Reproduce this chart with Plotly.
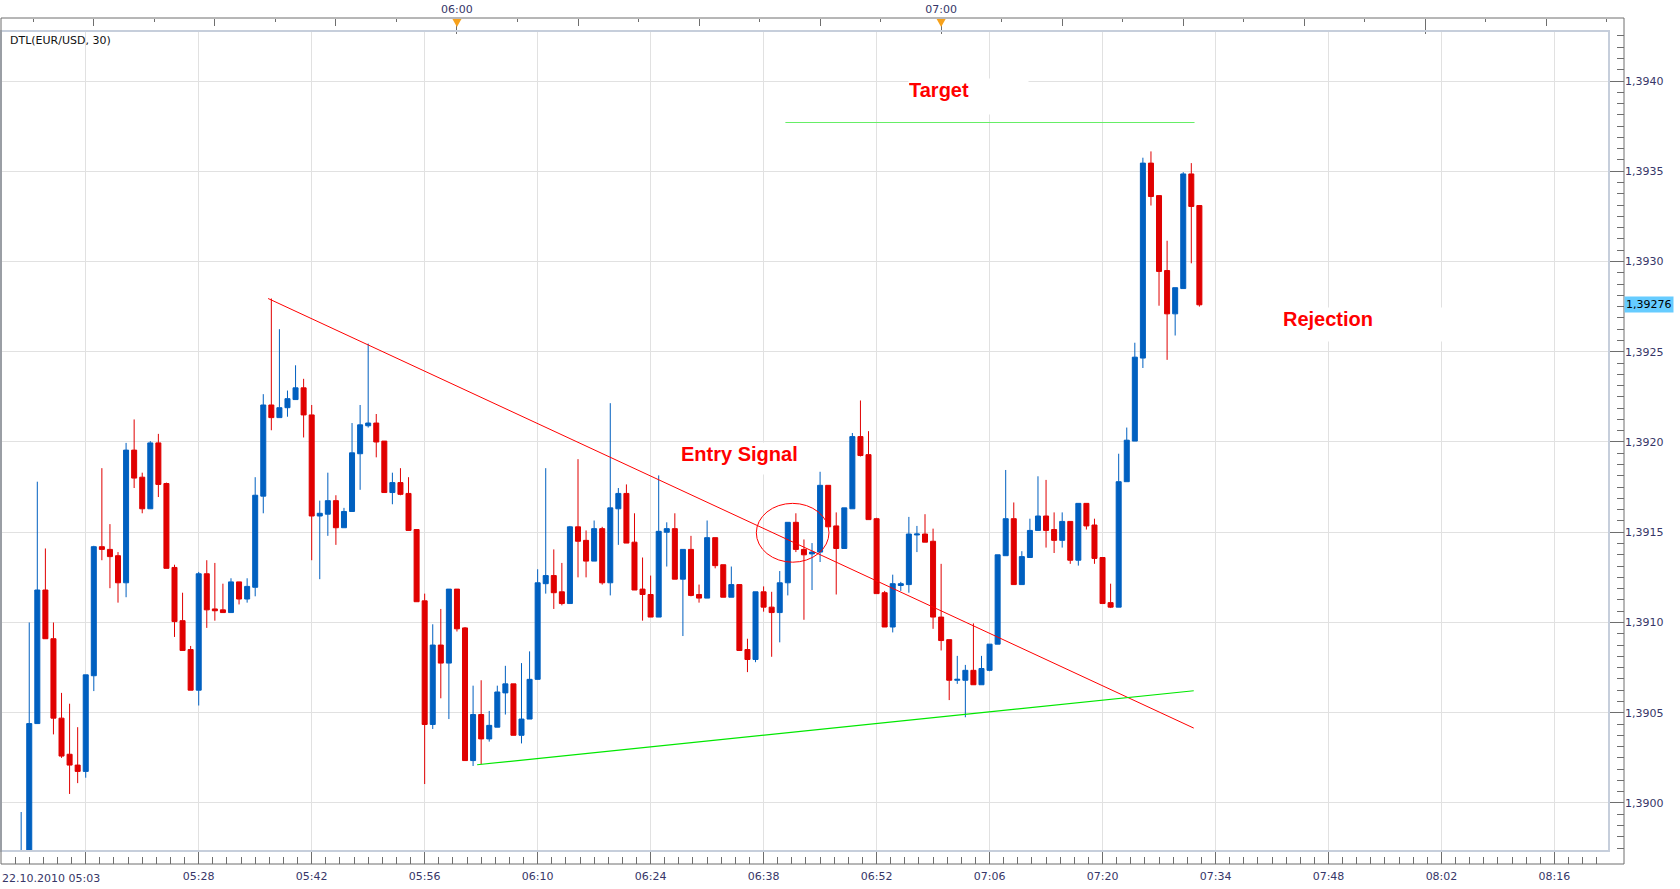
import plotly.graph_objects as go

# ------------------------------------------------------------------ data
BASE = 1.3900          # prices below are pip offsets from this level
PIP = 0.0001
first_bar = -8         # bar index of the first (partly hidden) candle; one bar per minute

open_pips = [
    -5.5, -4.0, 4.4, 11.8, 9.1, 4.7, 2.7, 2.1, 1.75, 7.05,
    14.2, 14.05, 13.7, 12.2, 19.55, 18.05, 16.3, 19.95, 17.7, 13.05,
    10.1, 8.5, 6.25, 12.7, 10.75, 10.7, 10.55, 12.25, 11.3, 11.95,
    17.0, 22.05, 21.35, 21.9, 22.35, 23.0, 21.5, 15.9, 16.0, 16.75,
    15.25, 16.15, 19.35, 20.9, 21.05, 20.05, 17.2, 17.75, 17.15, 15.15,
    11.2, 4.35, 8.75, 7.75, 11.85, 9.7, 2.35, 4.9, 3.55, 4.2,
    6.1, 6.6, 3.75, 4.65, 6.85, 12.15, 12.6, 11.7, 11.05, 15.3,
    14.55, 13.4, 15.2, 12.2, 16.3, 17.15, 14.45, 11.85, 11.55, 10.3,
    15.0, 15.2, 12.4, 14.05, 11.55, 11.35, 14.7, 13.2, 11.4, 12.1,
    8.5, 7.95, 11.7, 10.85, 10.55, 12.2, 15.55, 14.05, 13.8, 13.9,
    17.6, 15.35, 14.1, 16.3, 20.3, 19.3, 15.75, 11.65, 9.75, 12.05,
    12.1, 14.85, 14.9, 14.5, 10.3, 9.05, 6.8, 6.8, 7.35, 6.55,
    7.35, 8.8, 13.7, 15.75, 12.1, 13.6, 15.1, 15.9, 15.15, 14.55,
    15.6, 13.45, 16.6, 15.4, 13.6, 11.1, 10.85, 17.8, 20.05, 24.65,
    35.45, 33.65, 29.5, 27.1, 28.5, 34.85, 33.1,
]
high_pips = [
    -0.5, 10.0, 17.8, 14.1, 10.0, 6.1, 5.5, 4.2, 7.1, 14.25,
    18.55, 15.45, 13.9, 19.95, 21.25, 18.3, 20.05, 20.45, 17.75, 13.2,
    11.65, 8.7, 12.8, 13.45, 13.3, 12.15, 12.45, 12.25, 12.45, 18.05,
    22.65, 27.95, 26.25, 22.85, 24.25, 23.5, 22.05, 16.75, 18.3, 17.05,
    16.35, 21.05, 22.05, 25.45, 21.55, 20.05, 18.3, 18.55, 18.05, 15.15,
    11.6, 9.9, 10.75, 11.85, 11.85, 9.75, 6.5, 6.8, 5.1, 6.5,
    7.6, 6.6, 7.75, 8.4, 12.95, 18.55, 14.05, 13.3, 15.35, 19.05,
    15.1, 15.65, 15.3, 22.15, 17.45, 17.65, 16.05, 13.6, 12.6, 18.15,
    15.55, 16.05, 14.05, 14.8, 12.1, 15.65, 14.7, 13.2, 13.1, 12.1,
    9.1, 11.7, 12.0, 11.7, 12.85, 15.55, 16.05, 14.6, 14.4, 18.35,
    17.6, 16.1, 16.35, 20.5, 22.3, 20.6, 15.8, 11.75, 12.65, 12.25,
    15.85, 15.35, 16.0, 15.2, 13.25, 9.05, 8.15, 7.65, 9.95, 8.15,
    8.8, 13.75, 18.45, 16.65, 13.95, 15.75, 18.1, 17.9, 16.1, 16.1,
    15.6, 16.6, 16.6, 15.75, 13.6, 12.15, 19.35, 20.8, 25.5, 35.75,
    36.1, 33.65, 31.15, 28.55, 34.95, 35.45, 33.1,
]
low_pips = [
    -6.0, -4.5, 4.4, 9.1, 3.8, 2.5, 0.5, 1.1, 1.4, 6.2,
    13.45, 11.9, 11.1, 11.4, 17.45, 16.05, 16.3, 16.95, 13.0, 9.2,
    8.45, 6.25, 5.4, 9.7, 10.1, 10.55, 10.55, 11.0, 11.1, 11.45,
    16.05, 20.65, 21.35, 21.4, 22.35, 20.25, 13.45, 12.4, 14.8, 14.3,
    15.25, 16.15, 17.35, 20.8, 19.15, 17.2, 16.55, 17.05, 15.1, 11.15,
    1.05, 4.1, 5.8, 4.65, 9.5, 2.35, 2.05, 2.15, 3.4, 4.2,
    4.9, 3.75, 3.3, 4.65, 6.85, 11.6, 10.75, 10.95, 11.05, 12.5,
    12.5, 13.4, 12.1, 11.5, 14.3, 14.4, 11.8, 10.1, 10.3, 10.3,
    13.1, 12.4, 9.25, 11.45, 11.1, 11.35, 13.0, 11.4, 11.4, 8.45,
    7.25, 7.8, 10.6, 8.1, 8.9, 11.5, 13.9, 10.15, 11.8, 13.35,
    15.3, 11.55, 14.1, 16.3, 19.2, 15.7, 11.6, 9.75, 9.45, 11.75,
    11.65, 13.9, 14.45, 9.65, 8.45, 5.7, 6.6, 4.75, 6.55, 6.55,
    7.3, 8.8, 13.7, 12.1, 12.1, 13.6, 15.1, 14.15, 13.85, 14.15,
    13.25, 13.15, 15.15, 13.25, 11.05, 10.8, 10.85, 17.8, 20.05, 24.1,
    33.1, 27.55, 24.55, 25.9, 28.5, 29.9, 27.5,
]
close_pips = [
    -3.5, 4.4, 11.8, 9.1, 4.7, 2.6, 2.1, 1.75, 7.1, 14.2,
    14.05, 13.65, 12.2, 19.55, 18.0, 16.3, 19.95, 17.65, 13.0, 10.05,
    8.45, 6.25, 12.7, 10.7, 10.65, 10.55, 12.25, 11.3, 12.0, 17.05,
    22.05, 21.35, 21.9, 22.4, 23.0, 21.5, 15.9, 16.05, 16.75, 15.25,
    16.15, 19.4, 20.95, 21.05, 20.0, 17.2, 17.75, 17.1, 15.1, 11.15,
    4.35, 8.75, 7.75, 11.85, 9.65, 2.35, 4.9, 3.55, 4.3, 6.15,
    6.6, 3.75, 4.65, 6.85, 12.2, 12.6, 11.65, 11.05, 15.3, 14.5,
    13.4, 15.2, 12.2, 16.35, 17.15, 14.4, 11.8, 11.55, 10.3, 15.05,
    15.2, 12.4, 14.05, 11.5, 11.35, 14.7, 13.15, 11.4, 12.1, 8.45,
    7.95, 11.7, 10.85, 10.55, 12.2, 15.55, 14.05, 13.75, 13.9, 17.6,
    15.3, 14.1, 16.35, 20.3, 19.25, 15.7, 11.6, 9.75, 12.15, 12.15,
    14.9, 14.9, 14.45, 10.3, 9.0, 6.8, 6.85, 7.35, 6.55, 7.45,
    8.8, 13.75, 15.75, 12.1, 13.65, 15.1, 15.9, 15.1, 14.55, 15.6,
    13.45, 16.6, 15.35, 13.55, 11.05, 10.85, 17.8, 20.1, 24.7, 35.45,
    33.6, 29.45, 27.1, 28.55, 34.85, 33.05, 27.6,
]

# bottom time axis: one label every 14 bars
bottom_tick_bars = [0, 14, 28, 42, 56, 70, 84, 98, 112, 126, 140, 154, 168, 182]
bottom_tick_text = ["22.10.2010 05:03", "05:28", "05:42", "05:56", "06:10", "06:24", "06:38",
                    "06:52", "07:06", "07:20", "07:34", "07:48", "08:02", "08:16"]
bottom_minor_step = 1.75

# top time axis: bar index of 06:00, one bar per minute
top_hour_bar = 46
top_hour_text = ["06:00", "07:00", ""]
top_hour_marked = ["06:00", "07:00"]

# drawn objects (bar index, price)
resistance_x = [22.6, 137.3]
resistance_y = [1.392795, 1.390415]
support_x = [48.5, 137.3]
support_y = [1.390212, 1.390622]
target_x = [86.7, 137.4]
target_y = [1.39377, 1.39377]
entry_ring_x = [83.1, 92.1]
entry_ring_y = [1.391334, 1.391660]
last_price = 1.39276

# ------------------------------------------------------------------ styling
W, H = 1680, 889
ML, MR, MT, MB = 1, 56.4, 18, 25
X_RANGE = [-10.5, 188.76]
Y_RANGE = [1.389734, 1.394277]
X_DOMAIN = [0, 0.99076]
Y_DOMAIN = [0.015366, 0.98463]
BLUE = "#0060c0"
RED = "#e00000"
AXIS = "#6e6e6e"
GRID = "#e1e1e1"
LABEL = "#363668"
TICK_FONT = dict(family="DejaVu Sans", size=11, color=LABEL)


def to_price(vals):
    return [round(BASE + v * PIP, 6) for v in vals]


bar_pos = list(range(first_bar, first_bar + len(open_pips)))

fig = go.Figure()
fig.add_trace(go.Candlestick(
    x=bar_pos, open=to_price(open_pips), high=to_price(high_pips),
    low=to_price(low_pips), close=to_price(close_pips),
    increasing=dict(line=dict(color=BLUE, width=1), fillcolor=BLUE),
    decreasing=dict(line=dict(color=RED, width=1), fillcolor=RED),
    whiskerwidth=0, hoverinfo="skip", showlegend=False,
))
fig.add_trace(go.Scatter(x=resistance_x, y=resistance_y, mode="lines",
                         line=dict(color="#ff0000", width=1), hoverinfo="skip", showlegend=False))
fig.add_trace(go.Scatter(x=support_x, y=support_y, mode="lines",
                         line=dict(color="#00e800", width=1.2), hoverinfo="skip", showlegend=False))
fig.add_trace(go.Scatter(x=target_x, y=target_y, mode="lines",
                         line=dict(color="#66ee66", width=1.2), hoverinfo="skip", showlegend=False))
# dummy traces so the top time axes are drawn
for ax in ("x2", "x3"):
    fig.add_trace(go.Scatter(x=[top_hour_bar], y=[last_price], xaxis=ax, mode="markers",
                             marker=dict(opacity=0), hoverinfo="skip", showlegend=False))

# tick positions
grid_set = set(bottom_tick_bars)
bottom_minor = []
v = bottom_tick_bars[0]
while v - bottom_minor_step > X_RANGE[0]:
    v -= bottom_minor_step
k = v
while k < X_RANGE[1]:
    if round(k, 3) not in grid_set:
        bottom_minor.append(round(k, 3))
    k += bottom_minor_step

hour_pos = [top_hour_bar + 60 * i for i in range(len(top_hour_text))]
quarter_pos, eighth_pos = [], []
m = -20
while top_hour_bar + 7.5 * m < X_RANGE[1]:
    p = top_hour_bar + 7.5 * m
    if p > X_RANGE[0]:
        if m % 8 == 0:
            pass
        elif m % 2 == 0:
            quarter_pos.append(p)
        else:
            eighth_pos.append(p)
    m += 1

fig.update_layout(
    width=W, height=H, autosize=False,
    margin=dict(l=ML, r=MR, t=MT, b=MB, pad=0),
    paper_bgcolor="white", plot_bgcolor="white",
    separators=",.",
    showlegend=False, hovermode=False,
    boxgap=0.38, boxgroupgap=0,
    xaxis=dict(
        domain=X_DOMAIN, range=X_RANGE, anchor="free", position=0, side="bottom",
        rangeslider=dict(visible=False),
        tickmode="array", tickvals=bottom_tick_bars, ticktext=[""] + bottom_tick_text[1:],
        ticks="inside", ticklen=12, tickwidth=1, tickcolor=AXIS,
        tickfont=TICK_FONT, ticklabelstandoff=4,
        showgrid=True, gridcolor=GRID, gridwidth=1, zeroline=False, showline=False,
        minor=dict(tickmode="array", tickvals=bottom_minor, ticks="inside", ticklen=7,
                   tickcolor=AXIS, tickwidth=1, showgrid=False),
    ),
    xaxis2=dict(
        domain=X_DOMAIN, range=X_RANGE, overlaying="x", anchor="free", position=1, side="top",
        tickmode="array", tickvals=hour_pos, ticktext=top_hour_text,
        ticks="inside", ticklen=15, tickwidth=1, tickcolor=AXIS, tickfont=TICK_FONT,
        ticklabelstandoff=3,
        showgrid=False, zeroline=False, showline=False,
        minor=dict(tickmode="array", tickvals=quarter_pos, ticks="inside", ticklen=6.7,
                   tickcolor=AXIS, tickwidth=1, showgrid=False),
    ),
    xaxis3=dict(
        domain=X_DOMAIN, range=X_RANGE, overlaying="x", anchor="free", position=1, side="top",
        tickmode="array", tickvals=eighth_pos, showticklabels=False,
        ticks="inside", ticklen=3.3, tickwidth=1, tickcolor=AXIS,
        showgrid=False, zeroline=False, showline=False,
    ),
    yaxis=dict(
        domain=Y_DOMAIN, range=Y_RANGE, anchor="free", position=1, side="right",
        tickmode="linear", tick0=1.39, dtick=0.0005, tickformat=".4f",
        ticks="inside", ticklen=14, tickwidth=1, tickcolor=AXIS, tickfont=TICK_FONT,
        showgrid=True, gridcolor=GRID, gridwidth=1, zeroline=False, showline=False,
        minor=dict(tickmode="linear", tick0=1.39, dtick=0.0000625, ticks="inside", ticklen=7,
                   tickcolor=AXIS, tickwidth=1, showgrid=False),
    ),
)

shapes = [
    # plot area border
    dict(type="rect", xref="x domain", yref="y domain", x0=0, x1=1, y0=0, y1=1,
         line=dict(color="#c6cedb", width=2), layer="above"),
    # outer frame (axis lines)
    dict(type="rect", xref="paper", yref="paper", x0=0, x1=1, y0=0, y1=1,
         line=dict(color=AXIS, width=1), layer="above"),
    # entry circle
    dict(type="circle", xref="x", yref="y", x0=entry_ring_x[0], x1=entry_ring_x[1],
         y0=entry_ring_y[0], y1=entry_ring_y[1], line=dict(color="#ff0000", width=1)),
]
# orange hour markers on the top axis
tri_top = 1 - 1 / (H - MT - MB)
tri_bot = 1 - 9 / (H - MT - MB)
for lab, p in zip(top_hour_text, hour_pos):
    if lab in top_hour_marked:
        shapes.append(dict(type="path", xref="x", yref="paper",
                           path=f"M {p - 0.56},{tri_top} L {p + 0.56},{tri_top} L {p},{tri_bot} Z",
                           fillcolor="#f7a11a", line=dict(width=0), layer="above"))
fig.update_layout(shapes=shapes)

ann = []
label_font = dict(family="Liberation Sans, Arial", size=20, color="#ff0000", weight="bold")
for text, x, y, w, h in [
    ("Entry Signal", 73.66, 1.39200, 124, 31),
    ("Target", 101.92, 1.394017, 119, 35),
    ("Rejection", 148.28, 1.392750, 168, 33),
]:
    ann.append(dict(text=text, x=x, y=y, xref="x", yref="y", xanchor="left", yanchor="top",
                    showarrow=False, bgcolor="white", width=w, height=h, align="left",
                    valign="top", borderpad=0, font=label_font))
# chart title
ann.append(dict(text="DTL(EUR/USD, 30)", x=7 / (W - ML - MR), y=Y_DOMAIN[1], xref="paper",
                yref="paper", xanchor="left", yanchor="top", yshift=-1, showarrow=False,
                font=dict(family="DejaVu Sans", size=11, color="#111111")))
# first (date) tick label, aligned so the time sits on its grid line
ann.append(dict(text=bottom_tick_text[0], x=bottom_tick_bars[0], y=0, xref="x", yref="paper",
                xanchor="right", yanchor="top", xshift=16, yshift=-6, showarrow=False,
                font=TICK_FONT))
# last price box
ann.append(dict(text=f"{last_price:.5f}".replace(".", ","), x=1, y=last_price, xref="paper",
                yref="y", xanchor="left", yanchor="middle", showarrow=False, bgcolor="#66ccff",
                borderpad=1, font=dict(family="DejaVu Sans", size=11, color="#000000")))
fig.update_layout(annotations=ann)

fig.write_html("out.html", config={"displayModeBar": False})
